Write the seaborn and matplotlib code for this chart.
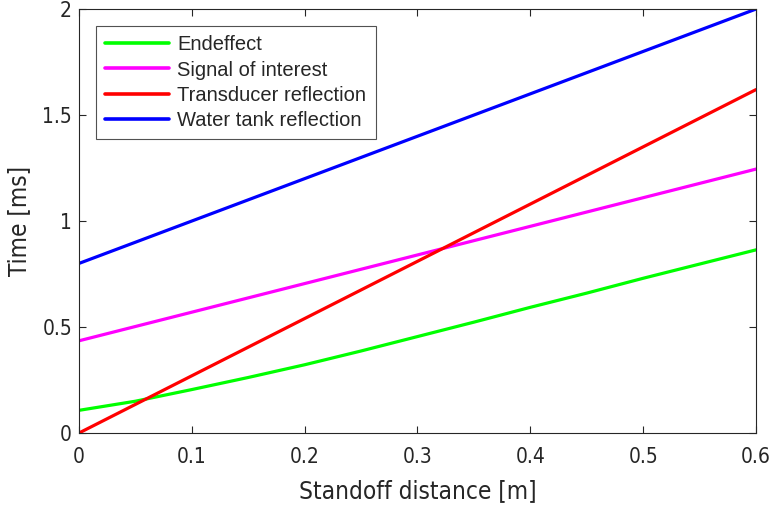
import seaborn as sns
import matplotlib.pyplot as plt
import pandas as pd

# values
standoff = [0.0, 0.05, 0.1, 0.15, 0.2, 0.25, 0.3, 0.35, 0.4, 0.45, 0.5, 0.55, 0.6]
endeffect = [0.107, 0.150, 0.205, 0.262, 0.322, 0.387, 0.455, 0.523, 0.593, 0.660, 0.730, 0.797, 0.864]
signal_x = [0.0, 0.6]
signal_t = [0.435, 1.245]
transducer_x = [0.0, 0.6]
transducer_t = [0.0, 1.62]
tank_x = [0.0, 0.6]
tank_t = [0.80, 2.0]

series_names = ['Endeffect', 'Signal of interest', 'Transducer reflection', 'Water tank reflection']
series_colors = ['#00ff00', '#ff00ff', '#ff0000', '#0000ff']
x_ticks = [0, 0.1, 0.2, 0.3, 0.4, 0.5, 0.6]
x_tick_labels = ['0', '0.1', '0.2', '0.3', '0.4', '0.5', '0.6']
y_ticks = [0, 0.5, 1, 1.5, 2]
y_tick_labels = ['0', '0.5', '1', '1.5', '2']

frames = []
for name, xs, ys in zip(series_names,
                        [standoff, signal_x, transducer_x, tank_x],
                        [endeffect, signal_t, transducer_t, tank_t]):
    frames.append(pd.DataFrame({'distance': xs, 'time': ys, 'series': name}))
df = pd.concat(frames, ignore_index=True)

sns.set_style('white')
plt.rcParams['font.family'] = ['DejaVu Sans']
plt.rcParams['font.stretch'] = 'condensed'

fig = plt.figure(figsize=(7.72, 5.08), dpi=100)
ax = fig.add_axes([0.1023, 0.1476, 0.877, 0.8346])

sns.lineplot(data=df, x='distance', y='time', hue='series', hue_order=series_names,
             palette=dict(zip(series_names, series_colors)), linewidth=2.3,
             estimator=None, sort=False, ax=ax)

ax.set_xlim(0, 0.6)
ax.set_ylim(0, 2)
ax.set_xticks(x_ticks)
ax.set_xticklabels(x_tick_labels)
ax.set_yticks(y_ticks)
ax.set_yticklabels(y_tick_labels)
ax.tick_params(direction='in', length=5, width=0.8, colors='#262626', labelsize=15,
               top=True, right=True, bottom=True, left=True)
ax.tick_params(axis='x', pad=10)
ax.tick_params(axis='y', pad=5)
for lab in ax.get_xticklabels() + ax.get_yticklabels():
    lab.set_color('#262626')
for spine in ax.spines.values():
    spine.set_color('#262626')
    spine.set_linewidth(0.8)

ax.set_xlabel('Standoff distance [m]', fontsize=17.5, color='#262626', labelpad=9)
ax.set_ylabel('Time [ms]', fontsize=17.5, color='#262626', labelpad=8)

leg = ax.legend(loc='upper left', bbox_to_anchor=(0.025, 0.960), borderaxespad=0,
                handlelength=3.2, handletextpad=0.4, labelspacing=0.32,
                borderpad=0.45, frameon=True, fancybox=False,
                prop={'family': ['Liberation Sans', 'DejaVu Sans'], 'stretch': 'normal', 'size': 14.5})
leg.get_frame().set_edgecolor('#262626')
leg.get_frame().set_linewidth(0.8)
for line in leg.get_lines():
    line.set_linewidth(2.6)

fig.savefig('out.png', dpi=100)
